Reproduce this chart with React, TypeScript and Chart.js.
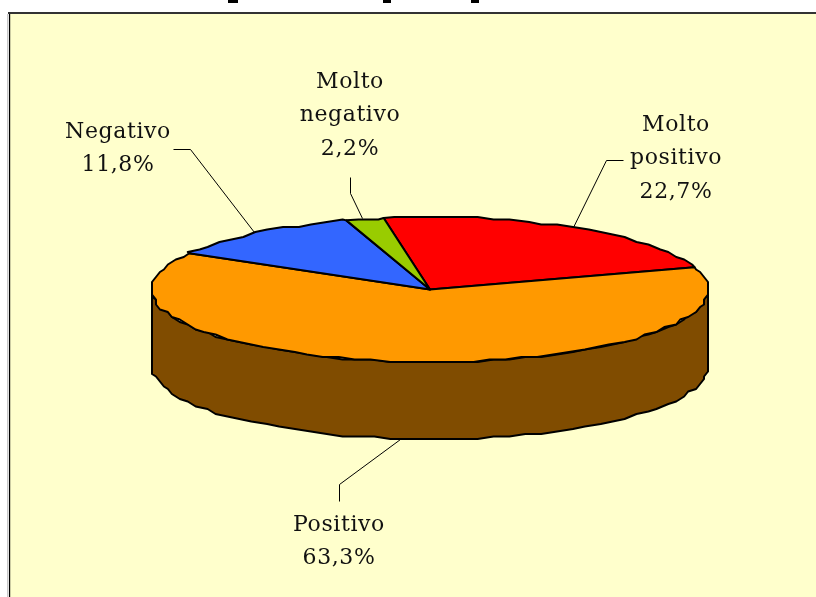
import React, { useEffect, useRef } from "react";
import { Chart, registerables } from "chart.js";

Chart.register(...registerables);

const categories = ["Molto positivo", "Positivo", "Negativo", "Molto negativo"];
const shares = [22.7, 63.3, 11.8, 2.2];
const sliceColors = ["#FF0000", "#FF9900", "#3366FF", "#99CC00"];
const sideColor = "#804C00";

const labelLines = [
  ["Molto", "positivo", "22,7%"],
  ["Positivo", "63,3%"],
  ["Negativo", "11,8%"],
  ["Molto", "negativo", "2,2%"],
];
const labelCenters = [
  [676, 125],
  [339, 525],
  [118, 132],
  [350, 82],
];
const leaders = [
  [[623, 160], [606, 160], [573, 227]],
  [[339, 501], [339, 484], [400, 439]],
  [[173, 149], [190, 149], [254, 232]],
  [[350, 177], [350, 193], [362, 218]],
];
const titleSlivers = [
  [228, 10, 3],
  [383, 8, 3],
  [471, 8, 3],
];

const FLATTEN = 72.5 / 278;
const DEPTH = 77;
const GRID_STEPS_X = 70;
const GRID_Y = 2.5;

function edgePoint(cx: number, cy: number, r: number, a: number) {
  const gridX = r / GRID_STEPS_X;
  const x = r * Math.cos(a);
  const y = r * FLATTEN * Math.sin(a);
  return [cx + Math.round(x / gridX) * gridX, cy + Math.round(y / GRID_Y) * GRID_Y];
}

function rimPoints(cx: number, cy: number, r: number, a0: number, a1: number) {
  const step = (3.5 * Math.PI) / 180;
  const out: number[][] = [];
  const first = Math.ceil(a0 / step);
  out.push([cx + r * Math.cos(a0), cy + r * FLATTEN * Math.sin(a0)]);
  for (let i = first; i * step < a1; i++) {
    out.push(edgePoint(cx, cy, r, i * step));
  }
  out.push([cx + r * Math.cos(a1), cy + r * FLATTEN * Math.sin(a1)]);
  return out;
}

const piePlugin = {
  id: "flatPie",
  beforeDraw(chart: any) {
    const { ctx, width, height } = chart;
    ctx.save();
    ctx.fillStyle = "#FFFFFF";
    ctx.fillRect(0, 0, width, height);
    ctx.fillStyle = "#FFFFCC";
    ctx.fillRect(9, 13, width - 9, height - 13);
    ctx.fillStyle = "#C8C8C8";
    ctx.fillRect(7, 14, 1.5, height - 14);
    ctx.fillStyle = "#000000";
    ctx.fillRect(9, 14, 1.2, height - 14);
    ctx.fillStyle = "#333333";
    ctx.fillRect(8, 12, width - 8, 2);
    ctx.fillStyle = "#000000";
    titleSlivers.forEach(([x, w, h]) => ctx.fillRect(x, 0, w, h));
    ctx.restore();
  },
  beforeDatasetDraw(chart: any) {
    const { ctx } = chart;
    const arcs = chart.getDatasetMeta(0).data;
    const { x: cx, y: cy, outerRadius: r } = arcs[0].getProps(["x", "y", "outerRadius"]);
    ctx.save();
    ctx.lineJoin = "round";
    ctx.lineWidth = 2;
    ctx.strokeStyle = "#000000";

    // The visible side wall: the lower half of the rim pushed down by the depth.
    const front = rimPoints(cx, cy, r, 0, Math.PI);
    ctx.beginPath();
    front.forEach(([x, y], i) => (i ? ctx.lineTo(x, y) : ctx.moveTo(x, y)));
    [...front].reverse().forEach(([x, y]) => ctx.lineTo(x, y + DEPTH));
    ctx.closePath();
    ctx.fillStyle = sideColor;
    ctx.fill();
    ctx.stroke();

    arcs.forEach((arc: any, i: number) => {
      const { startAngle, endAngle } = arc.getProps(["startAngle", "endAngle"]);
      const twoPi = Math.PI * 2;
      const a0 = ((startAngle % twoPi) + twoPi) % twoPi;
      const a1 = a0 + (endAngle - startAngle);
      const pts = rimPoints(cx, cy, r, a0, a1);
      ctx.beginPath();
      ctx.moveTo(cx, cy);
      pts.forEach(([x, y]) => ctx.lineTo(x, y));
      ctx.closePath();
      ctx.fillStyle = sliceColors[i];
      ctx.fill();
      ctx.stroke();
    });
    ctx.restore();
    return false;
  },
  afterDraw(chart: any) {
    const { ctx } = chart;
    ctx.save();
    ctx.strokeStyle = "#000000";
    ctx.lineWidth = 1;
    leaders.forEach((pts) => {
      ctx.beginPath();
      pts.forEach(([x, y], i) => (i ? ctx.lineTo(x + 0.5, y + 0.5) : ctx.moveTo(x + 0.5, y + 0.5)));
      ctx.stroke();
    });
    ctx.fillStyle = "#111111";
    ctx.font = '22px "DejaVu Serif"';
    (ctx as any).letterSpacing = "0.6px";
    ctx.textAlign = "center";
    ctx.textBaseline = "middle";
    labelLines.forEach((lines, i) => {
      const [x, y] = labelCenters[i];
      lines.forEach((t, j) => ctx.fillText(t, x, y + j * 33.5));
    });
    ctx.restore();
  },
};

export default function App() {
  const ref = useRef<HTMLCanvasElement>(null);
  useEffect(() => {
    const chart = new Chart(ref.current!, {
      type: "pie",
      data: {
        labels: categories,
        datasets: [{ data: shares, backgroundColor: sliceColors, borderWidth: 0 }],
      },
      options: {
        responsive: false,
        animation: false,
        rotation: -9.6,
        layout: { padding: { left: 152, right: 108, top: 11.5, bottom: 29.5 } },
        plugins: { legend: { display: false }, tooltip: { enabled: false }, title: { display: false } },
      },
      plugins: [piePlugin],
    } as any);
    return () => chart.destroy();
  }, []);
  return (
    <div style={{ position: "absolute", left: 0, top: 0, width: 816, height: 597 }}>
      <canvas ref={ref} width={816} height={597} style={{ display: "block" }} />
    </div>
  );
}
